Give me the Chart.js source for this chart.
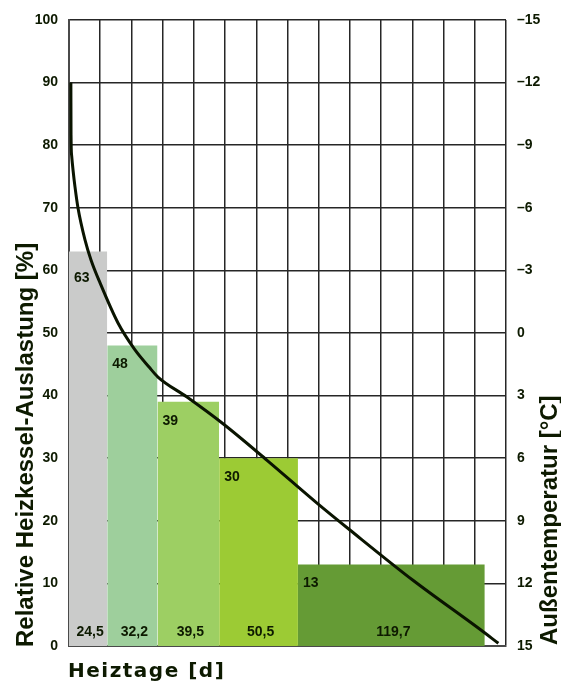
<!DOCTYPE html>
<html>
<head>
<meta charset="utf-8">
<script src="https://cdn.jsdelivr.net/npm/chart.js@4.4.0/dist/chart.umd.min.js"></script>
<style>
  html, body { margin: 0; padding: 0; background: #fff; }
  canvas { display: block; }
</style>
</head>
<body>
<canvas id="chart" width="561" height="684"></canvas>
<script>
// --- Daten ---
const heizTage = [24.5, 32.2, 39.5, 50.5, 119.7];          // Breite der Stufen [d]
const tageLabels = ["24,5", "32,2", "39,5", "50,5", "119,7"];
const auslastung = [63, 48, 39, 30, 13];                   // Heizkessel-Auslastung [%]
const barFarben = ["#cacbca", "#9ecf9c", "#9dcf63", "#9ccb34", "#659b35"];

// Jahresdauerlinie der Außentemperatur
const kurveTage = [1.2, 1.3, 1.7, 2.6, 3.84, 5.77, 10.25, 14.1, 19.9, 31.4, 42.3, 51.3, 57.0, 75.6, 98.7, 126.9, 158.9, 180.0, 220.4, 263.3, 275.1];
const kurveTemp = [-12, -9.5, -8.5, -7.8, -7.0, -5.99, -4.46, -3.5, -2.4, -0.48, 0.81, 1.63, 2.11, 3.07, 4.35, 6.1, 8.15, 9.44, 11.85, 14.2, 14.87];

const textFarbe = "#0d1a00";
const tickFont = { family: "'Liberation Sans', Arial, sans-serif", size: 14, weight: "bold" };

// Stufen als gefüllte Linien (variable Breite)
let start = 0;
const stufen = heizTage.map((d, i) => {
  const ds = {
    label: "Stufe " + (i + 1),
    data: [{ x: start, y: auslastung[i] }, { x: start + d, y: auslastung[i] }],
    yAxisID: "y",
    backgroundColor: barFarben[i],
    borderColor: "transparent",
    borderWidth: 0,
    pointRadius: 0,
    fill: "origin",
    order: 2
  };
  start += d;
  return ds;
});

const kurve = {
  label: "Außentemperatur",
  data: kurveTage.map((t, i) => ({ x: t, y: kurveTemp[i] })),
  yAxisID: "y2",
  borderColor: "#0a1400",
  borderWidth: 3,
  pointRadius: 0,
  fill: false,
  cubicInterpolationMode: "monotone",
  order: 0
};

// Beschriftungen und Achsentitel
const beschriftung = {
  id: "beschriftung",
  afterDatasetsDraw(chart) {
    const { ctx, scales: { x, y } } = chart;
    ctx.save();
    ctx.fillStyle = textFarbe;
    ctx.font = "bold 14px 'Liberation Sans', Arial, sans-serif";
    let s = 0;
    heizTage.forEach((d, i) => {
      const x0 = x.getPixelForValue(s);
      const x1 = x.getPixelForValue(s + d);
      ctx.textAlign = "left";
      ctx.textBaseline = "top";
      const dy = i === 0 ? 20 : 12;
      ctx.fillText(String(auslastung[i]), x0 + 5, y.getPixelForValue(auslastung[i]) + dy);
      ctx.textAlign = "center";
      ctx.textBaseline = "middle";
      ctx.fillText(tageLabels[i], (x0 + x1) / 2 + 2, y.bottom - 14);
      s += d;
    });
    ctx.restore();
  },
  afterDraw(chart) {
    const { ctx, chartArea } = chart;
    ctx.save();
    ctx.fillStyle = textFarbe;
    ctx.textAlign = "left";
    ctx.textBaseline = "alphabetic";
    ctx.font = "bold 24px 'Liberation Sans', Arial, sans-serif";
    // linker Titel
    ctx.save();
    ctx.translate(33, chartArea.bottom + 1);
    ctx.rotate(-Math.PI / 2);
    ctx.fillText("Relative Heizkessel-Auslastung [%]", 0, 0);
    ctx.restore();
    // rechter Titel
    ctx.save();
    ctx.translate(557, chartArea.bottom - 1);
    ctx.rotate(-Math.PI / 2);
    ctx.fillText("Außentemperatur [°C]", 0, 0);
    ctx.restore();
    // x-Titel
    ctx.font = "bold 20px 'DejaVu Sans', Verdana, sans-serif";
    ctx.letterSpacing = "1.5px";
    ctx.fillText("Heiztage [d]", 68, 677);
    ctx.restore();
  }
};

new Chart(document.getElementById("chart"), {
  type: "line",
  data: { datasets: [kurve, ...stufen] },
  options: {
    responsive: false,
    animation: false,
    layout: { padding: { top: 20, right: 0, bottom: 0, left: 0 } },
    plugins: {
      legend: { display: false },
      tooltip: { enabled: false }
    },
    scales: {
      x: {
        type: "linear",
        min: 0,
        max: 280,
        ticks: { stepSize: 20, display: false },
        grid: { color: "#262626", lineWidth: 1.5, drawTicks: false },
        border: { color: "#4a4a4a", width: 2 },
        afterFit(s) { s.height = 38; }
      },
      y: {
        position: "left",
        min: 0,
        max: 100,
        ticks: { stepSize: 10, padding: 11, font: tickFont, color: textFarbe },
        grid: { color: "#262626", lineWidth: 1.5, drawTicks: false },
        border: { color: "#4a4a4a", width: 2 },
        afterFit(s) { s.width = 69; }
      },
      y2: {
        position: "right",
        min: -15,
        max: 15,
        reverse: true,
        ticks: {
          stepSize: 3,
          padding: 11,
          font: tickFont,
          color: textFarbe,
          callback: v => (v < 0 ? "\u2013" + Math.abs(v) : String(v))
        },
        grid: { display: false, drawTicks: false },
        border: { display: false },
        afterFit(s) { s.width = 55; }
      }
    }
  },
  plugins: [beschriftung]
});
</script>
</body>
</html>
